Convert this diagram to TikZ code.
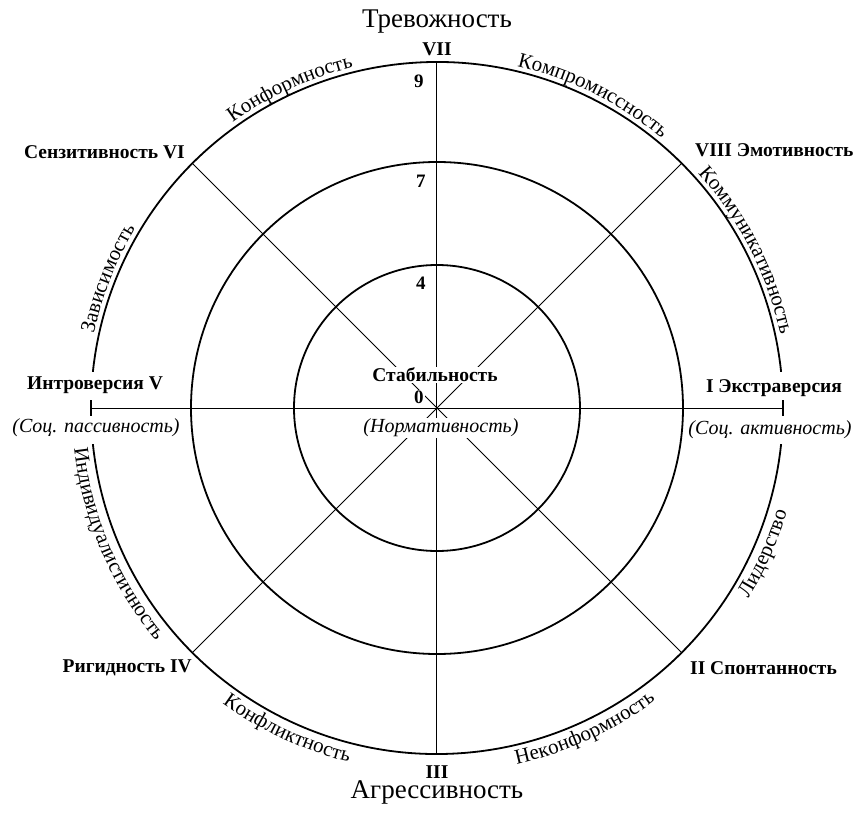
\documentclass[tikz,border=0pt]{standalone}
\usepackage{fontspec}
\setmainfont{Liberation Serif}
\usetikzlibrary{decorations.text}
\begin{document}
\begin{tikzpicture}[x=1pt,y=1pt,
  circ/.style={line width=1.8pt},
  axis/.style={line width=1pt},
  tickmark/.style={line width=2pt},
  lab/.style={font=\fontsize{19.5}{21}\selectfont\bfseries, inner sep=1pt, fill=white},
  ital/.style={font=\fontsize{20}{22}\selectfont\itshape, inner sep=1pt, fill=white},
  big/.style={font=\fontsize{27}{30}\selectfont, inner sep=0pt},
  num/.style={font=\fontsize{19}{20}\selectfont\bfseries, inner sep=1pt, fill=white},
  arctext/.style={decorate, decoration={text along path, text align=center, text={|\fontsize{21}{23}\selectfont|#1}}}
]
\useasboundingbox (-437,-406) rectangle (425,408);
\fill[white] (-437,-406) rectangle (425,408);

% axis end points
\coordinate (p0) at (0:346pt);
\coordinate (p45) at (45:346pt);
\coordinate (p90) at (90:346pt);
\coordinate (p135) at (135:346pt);
\coordinate (p180) at (180:346pt);
\coordinate (p225) at (225:346pt);
\coordinate (p270) at (270:346pt);
\coordinate (p315) at (315:346pt);

% circles
\draw[circ] (6:346pt) arc[start angle=6, end angle=174, radius=346pt];
\draw[circ] (186:346pt) arc[start angle=186, end angle=354, radius=346pt];
\draw[circ] (0,0) circle[radius=246pt];
\draw[circ] (0,0) circle[radius=143pt];

% axes
\draw[axis] (p0) -- (p180);
\draw[axis] (p90) -- (p270);
\draw[axis] (p45) -- (p225);
\draw[axis] (p135) -- (p315);

% centre labels
\node[lab] (stab) at (-2,33) {Стабильность};
\node[num] (n0) at (-18,11) {0};
\node[ital] (norm) at (4,-20) {(Нормативность)};
\node[num] (n4) at (-16,125) {4};
\node[num] (n7) at (-16,227) {7};
\node[num] (n9) at (-18,327) {9};

% pole labels
\node[big] (trev) at (0,386) {Тревожность};
\node[big] (aggr) at (0,-384) {Агрессивность};
\node[lab] (r7) at (0,359) {VII};
\node[lab] (r3) at (0,-364) {III};
\node[lab, anchor=east] (r6) at (-251,256) {Сензитивность VI};
\node[lab, anchor=west] (r8) at (257,258) {VIII Эмотивность};
\node[lab] (r5) at (-342,23) {Интроверсия V};
\node[ital] (r5b) at (-341,-20) {(Соц. пассивность)};
\node[lab] (r1) at (337,20) {I Экстраверсия};
\node[ital] (r1b) at (333,-22) {(Соц. активность)};
\node[lab, anchor=east] (r4) at (-244,-260) {Ригидность IV};
\node[lab, anchor=west] (r2) at (252,-260) {II Спонтанность};

% ticks
\coordinate (tl1) at (-346,8);
\coordinate (tl2) at (-346,-8);
\coordinate (tr1) at (346,8);
\coordinate (tr2) at (346,-8);
\draw[tickmark] (tl1) -- (tl2);
\draw[tickmark] (tr1) -- (tr2);

% arc labels (upper: clockwise, outside)
\path[arctext=Компромиссность] (88.5:351pt) arc[start angle=88.5, end angle=38.5, radius=351pt];
\path[arctext=Конформность] (139.7:351pt) arc[start angle=139.7, end angle=89.7, radius=351pt];
\path[arctext=Коммуникативность] (52:351pt) arc[start angle=52, end angle=2, radius=351pt];
\path[arctext=Зависимость] (183.5:351pt) arc[start angle=183.5, end angle=133.5, radius=351pt];
% lower: counter-clockwise, outside, tops inward
\path[arctext=Индивидуалистичность] (178:365pt) arc[start angle=178, end angle=228, radius=365pt];
\path[arctext=Конфликтность] (220:365pt) arc[start angle=220, end angle=270, radius=365pt];
\path[arctext=Неконформность] (269.7:365pt) arc[start angle=269.7, end angle=319.7, radius=365pt];
\path[arctext=Лидерство] (-49:365pt) arc[start angle=-49, end angle=1, radius=365pt];
\end{tikzpicture}
\end{document}
